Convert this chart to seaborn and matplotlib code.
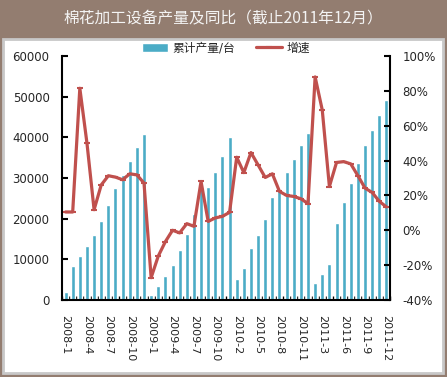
import numpy as np
import pandas as pd
import matplotlib.pyplot as plt
from matplotlib.patches import Rectangle
from matplotlib.ticker import FixedLocator
import seaborn as sns

########################################################
# Data
########################################################

months = [
    "2008-1", "2008-2", "2008-3", "2008-4", "2008-5", "2008-6",
    "2008-7", "2008-8", "2008-9", "2008-10", "2008-11", "2008-12",
    "2009-1", "2009-2", "2009-3", "2009-4", "2009-5", "2009-6",
    "2009-7", "2009-8", "2009-9", "2009-10", "2009-11", "2009-12",
    "2010-2", "2010-3", "2010-4", "2010-5", "2010-6", "2010-7",
    "2010-8", "2010-9", "2010-10", "2010-11", "2010-12",
    "2011-2", "2011-3", "2011-4", "2011-5", "2011-6", "2011-7",
    "2011-8", "2011-9", "2011-10", "2011-11", "2011-12",
]

# cumulative output (units)
output = [
    2000, 8400, 10800, 13200, 16100, 19500,
    23400, 27600, 30800, 34200, 37700, 40900,
    1200, 3400, 5900, 8500, 12200, 16300,
    21200, 27300, 27700, 31500, 35400, 40000,
    5100, 7800, 12700, 16100, 20000, 25400,
    27200, 31500, 34700, 38100, 41100,
    4100, 6300, 8800, 19000, 24200, 28800,
    33700, 38100, 41800, 45500, 49200,
]

# year-on-year growth (%)
growth = [
    10.5, 10.5, 81.5, 50.0, 11.8, 26.0,
    31.3, 30.5, 29.0, 32.4, 31.8, 27.1,
    -27.2, -14.8, -6.5, 0.0, -1.5, 3.8,
    2.3, 28.0, 5.1, 7.1, 8.0, 10.3,
    41.9, 33.1, 44.6, 37.5, 30.3, 32.4,
    22.3, 20.0, 19.4, 18.1, 15.3,
    88.0, 69.0, 25.1, 38.9, 39.4, 38.1,
    31.3, 24.2, 21.7, 16.6, 13.4,
]

left_ticks = [0, 10000, 20000, 30000, 40000, 50000, 60000]
right_ticks = [-40, -20, 0, 20, 40, 60, 80, 100]

title_text = "棉花加工设备产量及同比（截止2011年12月）"
bar_name = "累计产量/台"
line_name = "增速"

BAR_COLOR = "#4BACC6"
LINE_COLOR = "#C0504D"
FRAME_COLOR = "#937D70"

########################################################
# Plot
########################################################

sns.set_style("white")
plt.rcParams["font.family"] = ["DejaVu Sans", "Noto Sans CJK SC"]

df = pd.DataFrame({"month": months, "output": output, "growth": growth})
df["idx"] = np.arange(len(df))

W, H = 447, 377
fig = plt.figure(figsize=(W / 100, H / 100), dpi=100)
fig.patch.set_facecolor(FRAME_COLOR)

# white inner panel with grey border
fig.patches.append(Rectangle((3 / W, 4 / H), 440 / W, 334 / H,
                             transform=fig.transFigure, facecolor="white",
                             edgecolor="#C8C8C8", linewidth=2, zorder=-10))

fig.text(0.5, 1 - 19 / H, title_text, ha="center", va="center",
         color="#F4F4F4", fontsize=11.3, family=["Noto Sans CJK SC"])

ax = fig.add_axes([62 / W, 1 - 300 / H, 328 / W, 244 / H])
ax.patch.set_alpha(0)

sns.barplot(data=df, x="month", y="output", color=BAR_COLOR, saturation=1,
            width=0.56, errorbar=None, label=bar_name, ax=ax)

ax2 = ax.twinx()
ax2.patch.set_alpha(0)
sns.lineplot(data=df, x="idx", y="growth", color=LINE_COLOR, linewidth=2.3,
             marker="_", markersize=4, markeredgewidth=1.5,
             markeredgecolor=LINE_COLOR, label=line_name, ax=ax2)

n = len(months)
ax.set_xlim(-0.5, n - 0.5)
ax.set_ylim(0, 60000)
ax2.set_ylim(-40, 100)

ax.set_xticks(range(0, n, 3))
ax.set_xticklabels(months[::3], rotation=-90, fontsize=8)
ax.xaxis.set_minor_locator(FixedLocator(np.arange(-0.5, n, 1)))
ax.tick_params(axis="x", which="major", length=0, pad=11)
ax.tick_params(axis="x", which="minor", direction="in", length=3, width=1,
               color="black", bottom=True)

ax.set_yticks(left_ticks)
ax.set_yticklabels([str(v) for v in left_ticks], fontsize=8.5)
ax.tick_params(axis="y", direction="in", length=4, width=1.5, pad=9,
               left=True, color="black")

ax2.set_yticks(right_ticks)
ax2.set_yticklabels([f"{v}%" for v in right_ticks], fontsize=8.5)
ax2.tick_params(axis="y", direction="in", length=4, width=1.5, pad=9,
                right=True, color="black")

ax.set_xlabel("")
ax.set_ylabel("")
ax2.set_xlabel("")
ax2.set_ylabel("")

for a in (ax, ax2):
    a.spines["top"].set_visible(False)
    for s in ("left", "right", "bottom"):
        a.spines[s].set_color("black")
        a.spines[s].set_linewidth(1.5)
ax2.spines["left"].set_visible(False)
ax2.spines["bottom"].set_visible(False)
ax.spines["right"].set_visible(False)

# combined legend above the plot area
h1, l1 = ax.get_legend_handles_labels()
h2, l2 = ax2.get_legend_handles_labels()
if ax.get_legend():
    ax.get_legend().remove()
ax2.get_legend().remove()
fig.legend(h1 + h2, l1 + l2, loc="center", bbox_to_anchor=(226 / W, 1 - 48 / H),
           ncol=2, frameon=False, fontsize=8.5, handlelength=2.2,
           handletextpad=0.4, columnspacing=1.8)

fig.savefig("out.png", dpi=100, facecolor=fig.get_facecolor())
